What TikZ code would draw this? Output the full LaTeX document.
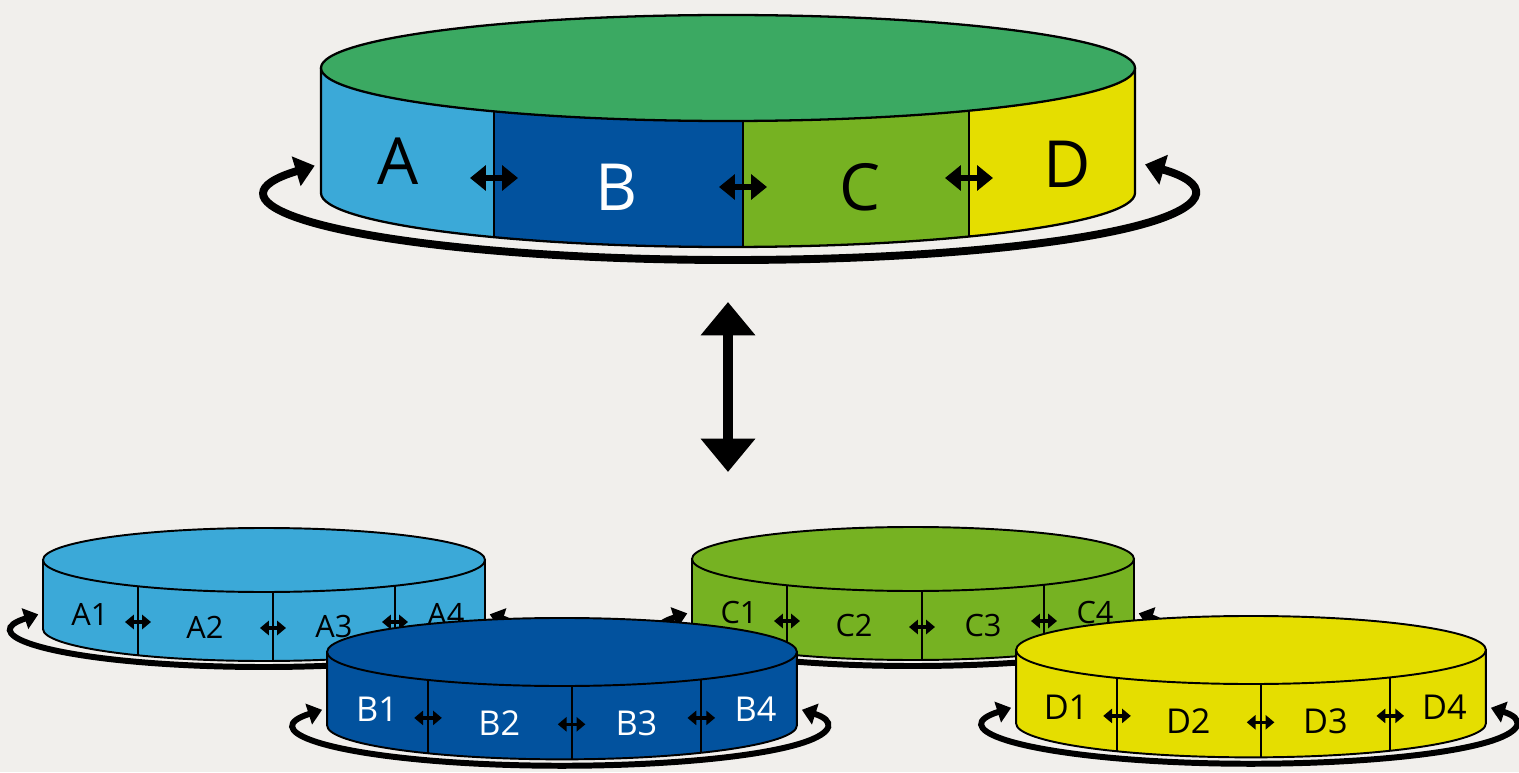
\documentclass[tikz,border=0pt]{standalone}
\usepackage{fontspec}
\setmainfont{Open Sans}
\usepackage{tikz}
\usetikzlibrary{arrows.meta}

\definecolor{paper}{RGB}{241,239,236}
\definecolor{lidgreen}{RGB}{59,169,98}
\definecolor{partA}{RGB}{59,169,216}
\definecolor{partB}{RGB}{2,82,158}
\definecolor{partC}{RGB}{118,178,34}
\definecolor{partD}{RGB}{229,222,0}

\begin{document}
\begin{tikzpicture}[x=0.02cm, y=0.02cm,
  rim/.style={draw=black, line width=1.3pt},
  thinrim/.style={draw=black, line width=1.1pt},
  turn/.style={line width=4.5pt, {Triangle[length=11pt,width=17pt]}-{Triangle[length=11pt,width=17pt]}},
  smallturn/.style={line width=3.4pt, {Triangle[length=8pt,width=12pt]}-{Triangle[length=8pt,width=12pt]}},
  swap/.style={line width=3.2pt, {Triangle[length=9pt,width=14pt]}-{Triangle[length=9pt,width=14pt]}},
  smallswap/.style={line width=2pt, {Triangle[length=5pt,width=8pt]}-{Triangle[length=5pt,width=8pt]}},
  bigswap/.style={line width=5.7pt, {Triangle[length=19pt,width=30pt]}-{Triangle[length=19pt,width=30pt]}},
  biglabel/.style={font=\fontsize{37}{40}\selectfont}]

% Paper
\fill[paper] (0,0) rectangle (1519,772);
\useasboundingbox (0,0) rectangle (1519,772);

% Turning arrow round the big drum
\coordinate (bigturn) at (732,578);
\draw[turn] (bigturn) ++(154.6:462 and 66) arc[start angle=154.6, end angle=386.6, x radius=462, y radius=66];

% Big drum side, cut in four parts
\begin{scope}
\clip (321,704) -- (321,579) arc[start angle=180, end angle=360, x radius=407, y radius=54]
  -- (1135,704) arc[start angle=0, end angle=-180, x radius=407, y radius=53] -- cycle;
\fill[partA] (321,500) rectangle (494,760);
\fill[partB] (494,500) rectangle (743,760);
\fill[partC] (743,500) rectangle (969,760);
\fill[partD] (969,500) rectangle (1135,760);
\draw[line width=1.3pt] (494,500) -- (494,760) (743,500) -- (743,760) (969,500) -- (969,760);
\end{scope}
\draw[rim] (321,704) -- (321,579) arc[start angle=180, end angle=360, x radius=407, y radius=54] -- (1135,704);

% Big drum lid
\filldraw[rim, fill=lidgreen] (728,704) ellipse[x radius=407, y radius=53];

% Big labels
\node[biglabel] (A) at (398,611) {A};
\node[biglabel, text=white] (B) at (617,585) {B};
\node[biglabel] (C) at (860,585) {C};
\node[biglabel] (D) at (1067,608) {D};

% Swaps between big parts
\coordinate (AB) at (494,594);
\coordinate (BC) at (743,585);
\coordinate (CD) at (969,594);
\foreach \p in {AB,BC,CD}
  \draw[swap] (\p) +(-24,0) -- +(24,0);

% Up and down arrow
\coordinate (up) at (728,470);
\coordinate (down) at (728,300);
\draw[bigswap] (up) -- (down);

% Small drums
\foreach \nm/\cx/\cy/\s/\col/\ink/\fs in {A/264/212/1/partA/black/17.5, C/913/213/1/partC/black/17.5,
    B/562/120/1.063/partB/white/19.5, D/1251/122/1.063/partD/black/19.5}{
  \begin{scope}[shift={(\cx,\cy)}, scale=\s]
    % turning arrow
    \coordinate (\nm turn) at (0,-70);
    \draw[smallturn] (\nm turn) ++(155:249 and 37) arc[start angle=155, end angle=385, x radius=249, y radius=37];
    % side and lid
    \filldraw[thinrim, fill=\col] (-221,0) -- (-221,-69) arc[start angle=180, end angle=360, x radius=221, y radius=32] -- (221,0) -- cycle;
    \draw[thinrim] (-126,-26.3) -- (-126,-95.3) (9,-32) -- (9,-101) (131,-25.8) -- (131,-94.8);
    \filldraw[thinrim, fill=\col] (0,0) ellipse[x radius=221, y radius=32];
    % labels
    \node[text=\ink, font=\fontsize{\fs}{\fs}\selectfont] (\nm1) at (-174,-54) {\nm1};
    \node[text=\ink, font=\fontsize{\fs}{\fs}\selectfont] (\nm2) at (-59,-67) {\nm2};
    \node[text=\ink, font=\fontsize{\fs}{\fs}\selectfont] (\nm3) at (70,-67) {\nm3};
    \node[text=\ink, font=\fontsize{\fs}{\fs}\selectfont] (\nm4) at (182,-54) {\nm4};
    % swaps
    \coordinate (\nm12) at (-126,-62);
    \coordinate (\nm23) at (9,-68);
    \coordinate (\nm34) at (131,-62);
    \draw[smallswap] (\nm12) +(-13,0) -- +(13,0);
    \draw[smallswap] (\nm23) +(-13,0) -- +(13,0);
    \draw[smallswap] (\nm34) +(-13,0) -- +(13,0);
  \end{scope}
}
\end{tikzpicture}
\end{document}
